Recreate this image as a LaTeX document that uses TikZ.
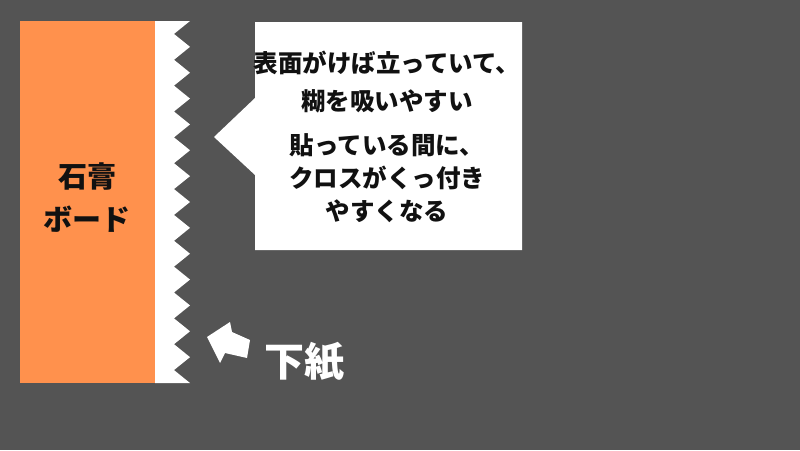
\documentclass[tikz,border=0pt]{standalone}
\usepackage{fontspec}
\newfontfamily\jpfont{Noto Sans CJK JP}
\definecolor{bgGray}{HTML}{545454}
\definecolor{boardOrange}{HTML}{FF914D}
\definecolor{inkBlack}{HTML}{111111}
\tikzset{
  jptext/.style={font=\jpfont\bfseries, align=center, inner sep=0pt},
  calloutText/.style={jptext, text=inkBlack},
}

\begin{document}
\begin{tikzpicture}[x=1pt, y=-1pt]
    % Background
    \fill[bgGray] (0,0) rectangle (800,450);
    \useasboundingbox (0,0) rectangle (800,450);

    % Gypsum board
    \fill[boardOrange] (20,21) rectangle (155,383);
    \node[jptext, text=inkBlack, font=\jpfont\bfseries\fontsize{29}{43}\selectfont] (board) at (87,198) {石膏\\ボード};

    % Backing paper with rough surface
    \fill[white] (155,21) -- (190,21)
        \foreach \k in {1,...,14} { -- (174,{21+(\k-0.5)*25.857}) -- (190,{21+\k*25.857}) }
        -- (155,383) -- cycle;

    % Speech bubble
    \fill[white] (255,22) -- (522,22) -- (522,250) -- (255,250) -- (255,175)
        -- (214,137) -- (255,98) -- cycle;
    \node[calloutText, font=\jpfont\bfseries\fontsize{24.5}{38}\selectfont] (fuzz) at (387,82) {表面がけば立っていて、\\糊を吸いやすい};
    \node[calloutText, font=\jpfont\bfseries\fontsize{24.5}{33}\selectfont] (stick) at (387,178) {貼っている間に、\\クロスがくっ付き\\やすくなる};

    % Arrow pointing at the paper
    \fill[white] (207,337) -- (230,322) -- (232,332) -- (250,340)
        -- (247,358) -- (225,353) -- (220,363) -- cycle;
    \node[jptext, text=white, font=\jpfont\bfseries\fontsize{40}{40}\selectfont] (paper) at (304,362) {下紙};
\end{tikzpicture}
\end{document}
